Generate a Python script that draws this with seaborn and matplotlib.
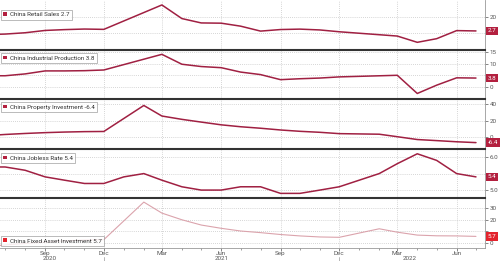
import numpy as np
import pandas as pd
import matplotlib
matplotlib.use("Agg")
import matplotlib.pyplot as plt
import matplotlib.dates as mdates
from matplotlib.patches import Patch
from matplotlib.transforms import blended_transform_factory
import seaborn as sns

sns.set_style("white")
plt.rcParams["font.family"] = ["Roboto", "DejaVu Sans"]

# ---- data (Jun 2020 .. Jul 2022, monthly) ----
months = pd.date_range("2020-06-01", "2022-07-01", freq="MS")
nan = np.nan
retail_sales = [-1.8, -1.1, 0.5, 3.3, 4.3, 5.0, 4.6,
                nan, nan, 34.2, 17.7, 12.4, 12.1, 8.5, 2.5, 4.4, 4.9, 3.9, 1.7,
                nan, nan, -3.5, -11.1, -6.7, 3.1, 2.7]
industrial_prod = [4.8, 4.8, 5.6, 6.9, 6.9, 7.0, 7.3,
                   nan, nan, 14.1, 9.8, 8.8, 8.3, 6.4, 5.3, 3.1, 3.5, 3.8, 4.3,
                   nan, nan, 5.0, -2.9, 0.7, 3.9, 3.8]
property_inv = [1.9, 3.4, 4.6, 5.6, 6.3, 6.8, 7.0,
                nan, 38.3, 25.6, 21.6, 18.3, 15.0, 12.7, 10.9, 8.8, 7.2, 6.0, 4.4,
                nan, 3.7, 0.7, -2.7, -4.0, -5.4, -6.4]
jobless_rate = [5.7, 5.7, 5.6, 5.4, 5.3, 5.2, 5.2,
                5.4, 5.5, 5.3, 5.1, 5.0, 5.0, 5.1, 5.1, 4.9, 4.9, 5.0, 5.1,
                5.3, 5.5, 5.8, 6.1, 5.9, 5.5, 5.4]
fixed_asset_inv = [-3.1, -1.6, -0.3, 0.8, 1.8, 2.6, 2.9,
                   nan, 35.0, 25.6, 19.9, 15.4, 12.6, 10.3, 8.9, 7.3, 6.1, 5.2, 4.9,
                   nan, 12.2, 9.3, 6.8, 6.2, 6.1, 5.7]

names = ["China Retail Sales", "China Industrial Production", "China Property Investment",
         "China Jobless Rate", "China Fixed Asset Investment"]
last_labels = ["2.7", "3.8", "-6.4", "5.4", "5.7"]
series = [retail_sales, industrial_prod, property_inv, jobless_rate, fixed_asset_inv]
yticks = [[0, 20], [0, 5, 10, 15], [0, 20, 40], [5.0, 5.5, 6.0], [0, 10, 20, 30]]
yticklabels = [["", "20"], ["0", "", "10", "15"], ["0", "20", "40"], ["5.0", "", "6.0"],
               ["0", "", "20", "30"]]
ylims = [(-19.8, 40.2), (-5.3, 16.2), (-13.5, 46.1), (4.76, 6.26), (-3.8, 38.5)]

line_colors = ["#a02042", "#a02042", "#a02042", "#a02042", "#dba3ac"]
line_widths = [1.1, 1.1, 1.1, 1.1, 0.8]
box_colors = ["#b3203f", "#b3203f", "#b3203f", "#b3203f", "#e3232d"]
legend_colors = ["#b3203f", "#b3203f", "#b3203f", "#b3203f", "#e3232d"]

fig = plt.figure(figsize=(5.0, 2.61), dpi=100)
W, H = 500.0, 261.0
left, right = 0.0, 485.0
bounds = [(0, 49.5), (49.5, 99), (99, 148.5), (148.5, 198), (198, 247.5)]
legend_tops = [9.5, 3.5, 3.0, 4.5, None]

xmin = pd.Timestamp("2020-06-23")
xmax = pd.Timestamp("2022-07-15")
axes = []
for i, (t, b) in enumerate(bounds):
    ax = fig.add_axes([left / W, 1 - b / H, (right - left) / W, (b - t) / H])
    axes.append(ax)
    df = pd.DataFrame({"date": months, "value": series[i]}).dropna()
    sns.lineplot(data=df, x="date", y="value", ax=ax, color=line_colors[i],
                 linewidth=line_widths[i])
    ax.set_xlim(xmin, xmax)
    ax.set_ylim(*ylims[i])
    ax.set_xlabel("")
    ax.set_ylabel("")
    ax.yaxis.tick_right()
    ax.set_yticks(yticks[i])
    ax.set_yticklabels(yticklabels[i])
    ax.tick_params(axis="y", which="both", direction="out", length=2, width=0.5,
                   colors="#555555", labelsize=4.5, pad=1.5, right=True, left=False)
    ax.xaxis.set_major_locator(mdates.MonthLocator(bymonth=[3, 6, 9, 12]))
    ax.xaxis.set_minor_locator(mdates.MonthLocator())
    ax.grid(True, which="major", axis="both", linestyle=(0, (1, 1.5)),
            color="#c8c8c8", linewidth=0.6)
    ax.spines["left"].set_visible(False)
    ax.spines["right"].set_color("#999999")
    ax.spines["right"].set_linewidth(0.6)
    if i == 0:
        ax.spines["top"].set_visible(False)
    else:
        ax.spines["top"].set_color("#333333")
        ax.spines["top"].set_linewidth(1.5)
    if i < 4:
        ax.spines["bottom"].set_visible(False)
        ax.tick_params(axis="x", which="both", bottom=False, labelbottom=False)
    else:
        ax.spines["bottom"].set_color("#999999")
        ax.spines["bottom"].set_linewidth(0.6)
        ax.xaxis.set_major_formatter(mdates.DateFormatter("%b"))
        ax.tick_params(axis="x", which="major", direction="out", length=2.0, width=0.5,
                       colors="#555555", labelsize=4.5, pad=0.8, bottom=True)
        ax.tick_params(axis="x", which="minor", direction="out", length=1.5, width=0.5,
                       colors="#777777", bottom=True)
        trans = blended_transform_factory(ax.transData, ax.transAxes)
        for yr, pos in [("2020", "2020-09-08"), ("2021", "2021-06-01"), ("2022", "2022-03-20")]:
            ax.text(pd.Timestamp(pos), -0.165, yr, transform=trans, ha="center", va="top",
                    fontsize=4.5, color="#555555")
        for d in ["2020-12-01", "2021-12-01"]:
            ax.plot([pd.Timestamp(d)] * 2, [-0.2, -0.28], transform=trans, clip_on=False,
                    color="#aaaaaa", linewidth=0.6)

    # last value box
    trans_y = blended_transform_factory(ax.transAxes, ax.transData)
    ax.annotate(last_labels[i], xy=(1.0, series[i][-1]), xycoords=trans_y,
                xytext=(1.8, 0), textcoords="offset points", ha="left", va="center",
                fontsize=4.5, color="white",
                bbox=dict(boxstyle="square,pad=0.3", fc=box_colors[i], ec="none"),
                annotation_clip=False)

    # legend
    handle = Patch(facecolor=legend_colors[i], edgecolor="none",
                   label=f"{names[i]} {last_labels[i]}")
    kw = dict(handles=[handle], fontsize=4.5, frameon=True, fancybox=False,
              handlelength=0.6, handleheight=0.6, handletextpad=0.4, borderpad=0.4,
              borderaxespad=0.0)
    if legend_tops[i] is not None:
        ypos = 1 - legend_tops[i] / (b - t)
        leg = ax.legend(loc="upper left", bbox_to_anchor=(0.002, ypos), **kw)
    else:
        leg = ax.legend(loc="lower left", bbox_to_anchor=(0.002, 0.03), **kw)
    leg.get_frame().set_edgecolor("#888888")
    leg.get_frame().set_linewidth(0.5)
    for txt in leg.get_texts():
        txt.set_color("#333333")

fig.savefig("out.png", dpi=100)
